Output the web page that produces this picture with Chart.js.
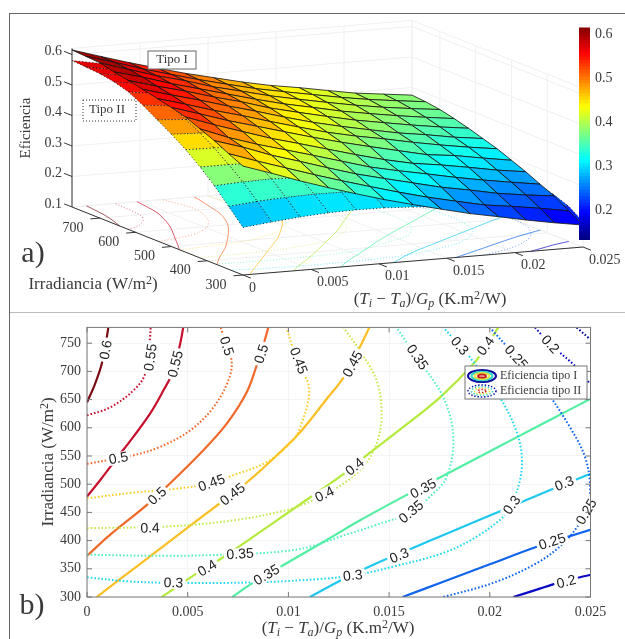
<!DOCTYPE html>
<html>
<head>
<meta charset="utf-8">
<title>Eficiencia tipo I y tipo II</title>
<script src="https://cdn.jsdelivr.net/npm/chart.js@4"></script>
<style>
  html, body { margin: 0; padding: 0; background: #fff; overflow: hidden; }
  #page { position: relative; width: 625px; height: 639px; }
  #frame { position: absolute; left: 9px; top: 13px; width: 616px; height: 626px; border-left: 1px solid #666; border-top: 1px solid #666; box-sizing: border-box; }
  #divider { position: absolute; left: 10px; top: 312px; width: 615px; height: 1px; background: #bbb; }
  canvas { position: absolute; filter: blur(0.4px); }
  #surface-chart { left: 10px; top: 14px; }
  #colorbar-chart { left: 560px; top: 14px; }
  #contour-chart { left: 0; top: 313px; }
</style>
</head>
<body>
<div id="page">
  <div id="frame"></div>
  <div id="divider"></div>
  <canvas id="surface-chart" width="615" height="298"></canvas>
  <canvas id="colorbar-chart" width="65" height="240"></canvas>
  <canvas id="contour-chart" width="625" height="326"></canvas>
</div>
<script>
// Rejilla de las superficies
const xGrid = [0, 0.0021, 0.0042, 0.0063, 0.0083, 0.0104, 0.0125, 0.0146, 0.0167, 0.0188, 0.0208, 0.0229, 0.025];
const gGrid = [300, 340, 380, 420, 460, 500, 540, 580, 620, 660, 700, 740, 778];

// Eficiencia tipo I, una fila por irradiancia
const typeI300 = [0.457, 0.426, 0.393, 0.363, 0.336, 0.309, 0.285, 0.262, 0.240, 0.222, 0.204, 0.187, 0.172];
const typeI340 = [0.479, 0.447, 0.417, 0.387, 0.360, 0.333, 0.307, 0.283, 0.262, 0.242, 0.230, 0.216, 0.200];
const typeI380 = [0.503, 0.474, 0.440, 0.412, 0.384, 0.356, 0.333, 0.311, 0.289, 0.272, 0.254, 0.241, 0.230];
const typeI420 = [0.523, 0.487, 0.457, 0.431, 0.406, 0.379, 0.352, 0.332, 0.314, 0.295, 0.279, 0.264, 0.250];
const typeI460 = [0.543, 0.510, 0.480, 0.450, 0.426, 0.400, 0.374, 0.350, 0.330, 0.317, 0.302, 0.285, 0.272];
const typeI500 = [0.556, 0.527, 0.497, 0.471, 0.446, 0.420, 0.396, 0.374, 0.353, 0.332, 0.322, 0.306, 0.291];
const typeI540 = [0.567, 0.540, 0.512, 0.487, 0.461, 0.435, 0.410, 0.390, 0.373, 0.354, 0.338, 0.323, 0.310];
const typeI580 = [0.578, 0.552, 0.527, 0.500, 0.476, 0.449, 0.424, 0.403, 0.384, 0.366, 0.353, 0.337, 0.325];
const typeI620 = [0.588, 0.562, 0.538, 0.511, 0.488, 0.460, 0.438, 0.417, 0.397, 0.381, 0.366, 0.352, 0.340];
const typeI660 = [0.598, 0.573, 0.544, 0.519, 0.495, 0.470, 0.447, 0.428, 0.408, 0.392, 0.378, 0.365, 0.353];
const typeI700 = [0.609, 0.580, 0.551, 0.527, 0.500, 0.478, 0.455, 0.436, 0.418, 0.401, 0.387, 0.375, 0.364];
const typeI740 = [0.612, 0.585, 0.555, 0.529, 0.505, 0.482, 0.460, 0.442, 0.425, 0.408, 0.394, 0.382, 0.371];
const typeI778 = [0.615, 0.586, 0.558, 0.532, 0.508, 0.486, 0.464, 0.445, 0.430, 0.413, 0.397, 0.386, 0.375];

// Eficiencia tipo II
const typeII300 = [0.256, 0.266, 0.275, 0.281, 0.283, 0.282, 0.277, 0.270, 0.257, 0.241, 0.224, 0.205, 0.183];
const typeII340 = [0.306, 0.315, 0.320, 0.323, 0.322, 0.317, 0.308, 0.293, 0.278, 0.263, 0.253, 0.235, 0.215];
const typeII380 = [0.355, 0.360, 0.362, 0.358, 0.354, 0.346, 0.332, 0.320, 0.308, 0.293, 0.275, 0.252, 0.233];
const typeII420 = [0.398, 0.398, 0.396, 0.390, 0.381, 0.371, 0.358, 0.344, 0.329, 0.310, 0.291, 0.265, 0.243];
const typeII460 = [0.436, 0.434, 0.431, 0.424, 0.413, 0.400, 0.384, 0.367, 0.348, 0.325, 0.302, 0.273, 0.250];
const typeII500 = [0.468, 0.464, 0.458, 0.447, 0.435, 0.420, 0.401, 0.379, 0.356, 0.332, 0.306, 0.278, 0.252];
const typeII540 = [0.497, 0.490, 0.481, 0.469, 0.456, 0.437, 0.414, 0.390, 0.364, 0.336, 0.307, 0.276, 0.245];
const typeII580 = [0.526, 0.516, 0.502, 0.483, 0.466, 0.448, 0.421, 0.397, 0.368, 0.341, 0.309, 0.275, 0.236];
const typeII620 = [0.551, 0.537, 0.516, 0.495, 0.473, 0.453, 0.426, 0.400, 0.365, 0.335, 0.302, 0.263, 0.224];
const typeII660 = [0.565, 0.550, 0.526, 0.504, 0.481, 0.456, 0.428, 0.400, 0.363, 0.328, 0.292, 0.254, 0.212];
const typeII700 = [0.573, 0.558, 0.533, 0.509, 0.485, 0.456, 0.425, 0.393, 0.355, 0.314, 0.274, 0.229, 0.190];
const typeII740 = [0.577, 0.560, 0.537, 0.509, 0.482, 0.447, 0.415, 0.380, 0.336, 0.295, 0.250, 0.208, 0.168];
const typeII778 = [0.580, 0.563, 0.535, 0.505, 0.472, 0.441, 0.403, 0.368, 0.322, 0.282, 0.232, 0.184, 0.140];

const rowsI = [typeI300, typeI340, typeI380, typeI420, typeI460, typeI500, typeI540, typeI580, typeI620, typeI660, typeI700, typeI740, typeI778];
const rowsII = [typeII300, typeII340, typeII380, typeII420, typeII460, typeII500, typeII540, typeII580, typeII620, typeII660, typeII700, typeII740, typeII778];

// Curvas de nivel tipo I (continuas): [x, irradiancia]
const lineI60 = [[0, 645], [0.0004, 678], [0.00073, 713], [0.00098, 760], [0.00106, 778]];
const lineI55 = [[0, 478], [0.00065, 507], [0.00139, 542], [0.0023, 584], [0.00313, 625], [0.00379, 666], [0.00429, 701], [0.00462, 748], [0.00478, 778]];
const lineI50 = [[0, 373], [0.00114, 410], [0.00296, 463], [0.00396, 496], [0.00561, 554], [0.00693, 607], [0.00793, 663], [0.00842, 710], [0.00884, 757], [0.009, 778]];
const lineI45 = [[0.00048, 300], [0.0018, 336], [0.00313, 372], [0.00511, 426], [0.00652, 464], [0.00793, 503], [0.00942, 551], [0.01058, 592], [0.0119, 651], [0.01273, 689], [0.0137, 754], [0.01402, 778]];
const lineI40 = [[0.00371, 300], [0.00545, 342], [0.0066, 367], [0.00826, 407], [0.01024, 456], [0.01273, 518], [0.01405, 556], [0.01587, 606], [0.01753, 654], [0.01918, 713], [0.01984, 745], [0.02042, 778]];
const lineI35 = [[0.00722, 300], [0.0081, 322], [0.00967, 355], [0.0119, 401], [0.01356, 436], [0.01587, 481], [0.01769, 515], [0.01935, 546], [0.02133, 583], [0.02315, 617], [0.02498, 651]];
const lineI30 = [[0.01107, 300], [0.01273, 332], [0.01438, 360], [0.01612, 386], [0.01803, 415], [0.02084, 457], [0.02315, 492], [0.02498, 518]];
const lineI25 = [[0.01567, 300], [0.01769, 327], [0.02, 358], [0.02233, 389], [0.02398, 408], [0.02498, 419]];
const lineI20 = [[0.02117, 300], [0.02233, 313], [0.0234, 325], [0.02448, 335], [0.02498, 339]];

// Curvas de nivel tipo II (punteadas)
const lineII55 = [[0, 622], [0.00114, 636], [0.0023, 666], [0.00288, 695], [0.00313, 760], [0.00316, 778]];
const lineII50 = [[0, 536], [0.00156, 546], [0.0023, 551], [0.00362, 566], [0.00511, 595], [0.00627, 636], [0.00702, 684], [0.00718, 719], [0.00669, 772], [0.00664, 778]];
const lineII45 = [[0, 475], [0.0023, 485], [0.00445, 492], [0.00619, 502], [0.00727, 516], [0.00892, 539], [0.01024, 578], [0.01058, 601], [0.01099, 648], [0.01099, 678], [0.01066, 701], [0.01016, 748], [0.00991, 778]];
const lineII40 = [[0, 422], [0.00396, 425], [0.00727, 436], [0.00991, 454], [0.01107, 469], [0.01182, 482], [0.01273, 501], [0.01372, 531], [0.01438, 572], [0.01463, 625], [0.01438, 684], [0.01356, 736], [0.01273, 778]];
const lineII35 = [[0, 375], [0.00396, 373], [0.0076, 376], [0.00975, 381], [0.01107, 389], [0.01273, 409], [0.01438, 428], [0.01612, 451], [0.01703, 478], [0.01786, 513], [0.01819, 584], [0.01769, 654], [0.01637, 725], [0.01537, 778]];
const lineII30 = [[0, 335], [0.00197, 328], [0.00429, 325], [0.00842, 326], [0.01157, 332], [0.01322, 338], [0.01521, 354], [0.01769, 378], [0.01935, 407], [0.02067, 442], [0.02109, 463], [0.02158, 525], [0.02141, 584], [0.0205, 654], [0.01901, 725], [0.01852, 745], [0.01769, 778]];
const lineII25 = [[0.01769, 300], [0.02017, 325], [0.02233, 360], [0.02365, 395], [0.02448, 431], [0.02481, 451], [0.02498, 495], [0.02473, 548], [0.02398, 601], [0.02266, 672], [0.02133, 725], [0.02, 778]];
const lineII20 = [[0.02224, 778], [0.02302, 748], [0.02431, 707], [0.02498, 678]];
const lineII15 = [[0.02431, 778], [0.02498, 757]];

const contoursI = [
  ['0.6', '#7a0c14', lineI60], ['0.55', '#c8102c', lineI55], ['0.5', '#f0682a', lineI50], ['0.45', '#fbbf24', lineI45],
  ['0.4', '#b4ea3c', lineI40], ['0.35', '#52efa2', lineI35], ['0.3', '#1ec8ee', lineI30], ['0.25', '#1064ee', lineI25], ['0.2', '#0a0ac4', lineI20],
];
const contoursII = [
  ['0.55', '#c8102c', lineII55], ['0.5', '#f0682a', lineII50], ['0.45', '#fbcf24', lineII45], ['0.4', '#c4ea4c', lineII40],
  ['0.35', '#52efc2', lineII35], ['0.3', '#1ed8ee', lineII30], ['0.25', '#1064ee', lineII25], ['0.2', '#0a0ac4', lineII20], ['0.15', '#000090', lineII15],
];

// Etiquetas de las curvas: [x, irradiancia, texto]
const labelsI = [
  [0.00094, 738, '0.6'], [0.0044, 713, '0.55'], [0.00349, 479, '0.5'], [0.00867, 731, '0.5'], [0.00723, 482, '0.45'], [0.0132, 713, '0.45'],
  [0.00597, 351, '0.4'], [0.0133, 531, '0.4'], [0.0198, 745, '0.4'], [0.00892, 339, '0.35'], [0.0167, 492, '0.35'],
  [0.0155, 373, '0.3'], [0.0237, 501, '0.3'], [0.0231, 398, '0.25'], [0.0238, 327, '0.2'],
];
const labelsII = [
  [0.00316, 725, '0.55'], [0.00156, 546, '0.5'], [0.00693, 745, '0.5'], [0.00619, 502, '0.45'], [0.0105, 719, '0.45'],
  [0.00313, 422, '0.4'], [0.0118, 482, '0.4'], [0.0076, 376, '0.35'], [0.0161, 451, '0.35'], [0.0164, 725, '0.35'],
  [0.00429, 325, '0.3'], [0.0132, 338, '0.3'], [0.0211, 463, '0.3'], [0.0185, 745, '0.3'],
  [0.0248, 451, '0.25'], [0.0213, 725, '0.25'], [0.023, 748, '0.2'],
];

// Ejes y textos
const xTicks = [0, 0.005, 0.01, 0.015, 0.02, 0.025];
const gTicks3d = [300, 400, 500, 600, 700];
const zTicks = [0.1, 0.2, 0.3, 0.4, 0.5, 0.6];
const gTicks = [300, 350, 400, 450, 500, 550, 600, 650, 700, 750];
const colorbarTicks = [0.2, 0.3, 0.4, 0.5, 0.6];
const legendNames = ['Eficiencia tipo I', 'Eficiencia tipo II'];
const xTitleRuns = [['('], ['T', 'i'], ['i', 's'], [' \u2212 '], ['T', 'i'], ['a', 's'], [')/'], ['G', 'i'], ['p', 's'], [' (K.m'], ['2', 'u'], ['/W)']];
const gTitleRuns = [['Irradiancia (W/m'], ['2', 'u'], [')']];

const SERIF = '"Liberation Serif", "DejaVu Serif", serif';
const SANS = '"Liberation Sans", Arial, sans-serif';
const TEXT = '#3a3a3a';

const xMin = 0, xMax = 0.025, gMin = 300, gMax = 778, zMin = 0.1, zMax = 0.62;
const zLimLow = 0.133, zLimHigh = 0.6156;

function jet(value) {
  const t = Math.min(1, Math.max(0, (value - zLimLow) / (zLimHigh - zLimLow)));
  const ch = (c) => Math.round(255 * Math.min(1, Math.max(0, 1.5 - Math.abs(4 * t - c))));
  return `rgb(${ch(3)},${ch(2)},${ch(1)})`;
}

// Proyeccion ortografica del grafico 3D a la pagina
function project(x, g, z) {
  const fx = x / xMax;
  const fg = (g - gMin) / (gMax - gMin);
  return {
    x: 243 + fx * 340 - fg * 171,
    y: 275 - fx * 28 - fg * 68 - (z - zMin) * 305,
  };
}

function line3d(points, style) {
  return {
    data: points.map((p) => project(p[0], p[1], p[2])),
    showLine: true,
    pointRadius: 0,
    fill: false,
    clip: false,
    borderWidth: 1,
    borderColor: '#eee',
    ...style,
  };
}

function surfaceQuads(rows, style) {
  const quads = [];
  for (let i = gGrid.length - 2; i >= 0; i -= 1) {
    for (let j = xGrid.length - 2; j >= 0; j -= 1) {
      const mean = (rows[i][j] + rows[i][j + 1] + rows[i + 1][j] + rows[i + 1][j + 1]) / 4;
      quads.push(line3d([
        [xGrid[j], gGrid[i], rows[i][j]],
        [xGrid[j + 1], gGrid[i], rows[i][j + 1]],
        [xGrid[j + 1], gGrid[i + 1], rows[i + 1][j + 1]],
        [xGrid[j], gGrid[i + 1], rows[i + 1][j]],
        [xGrid[j], gGrid[i], rows[i][j]],
      ], { fill: 'shape', backgroundColor: jet(mean), ...style }));
    }
  }
  return quads;
}

function surfaceDatasets() {
  const sets = [];
  const gridStyle = { borderColor: '#f0f0f0', borderWidth: 1 };
  // paredes y suelo
  zTicks.forEach((z) => {
    sets.push(line3d([[xMin, gMax, z], [xMax, gMax, z], [xMax, gMin, z]], gridStyle));
  });
  xTicks.forEach((x) => {
    sets.push(line3d([[x, gMin, zMin], [x, gMax, zMin], [x, gMax, zMax]], gridStyle));
  });
  gTicks3d.concat([gMax]).forEach((g) => {
    sets.push(line3d([[xMin, g, zMin], [xMax, g, zMin], [xMax, g, zMax]], gridStyle));
  });
  sets.push(line3d([[xMin, gMax, zMax], [xMax, gMax, zMax], [xMax, gMin, zMax]], gridStyle));

  // curvas proyectadas en el suelo
  contoursI.forEach(([, color, pts]) => {
    sets.push(line3d(pts.map((p) => [p[0], p[1], zMin]), { borderColor: color + 'b0', tension: 0.3 }));
  });
  contoursII.forEach(([, color, pts]) => {
    sets.push(line3d(pts.map((p) => [p[0], p[1], zMin]), { borderColor: color + '90', borderDash: [1, 2], tension: 0.3 }));
  });

  sets.push(...surfaceQuads(rowsII, { borderColor: '#111', borderWidth: 0.9, borderDash: [1, 2.4] }));
  sets.push(...surfaceQuads(rowsI, { borderColor: 'rgba(20,20,20,0.9)', borderWidth: 0.9 }));

  // ejes
  const axisStyle = { borderColor: '#333', borderWidth: 1 };
  sets.push(line3d([[xMin, gMax, zMin], [xMin, gMax, zMax]], axisStyle));
  sets.push(line3d([[xMin, gMax, zMin], [xMin, gMin, zMin], [xMax, gMin, zMin]], axisStyle));
  xTicks.forEach((x) => {
    sets.push(line3d([[x, gMin, zMin], [x, gMin - 22, zMin]], axisStyle));
  });
  gTicks3d.forEach((g) => {
    sets.push(line3d([[xMin, g, zMin], [xMin - 0.0007, g, zMin]], axisStyle));
  });
  zTicks.forEach((z) => {
    sets.push(line3d([[xMin, gMax, z], [xMin, gMax + 22, z]], axisStyle));
  });
  return sets.reverse();
}

function drawRuns(ctx, runs, cx, cy, size) {
  const fontOf = (run) => {
    const small = run[1] === 's' || run[1] === 'u';
    const italic = run[1] === 'i' || run[1] === 's';
    return `${italic ? 'italic ' : ''}${small ? Math.round(size * 0.7) : size}px ${SERIF}`;
  };
  let width = 0;
  runs.forEach((run) => {
    ctx.font = fontOf(run);
    width += ctx.measureText(run[0]).width;
  });
  let x = cx - width / 2;
  ctx.textAlign = 'left';
  ctx.textBaseline = 'alphabetic';
  runs.forEach((run) => {
    ctx.font = fontOf(run);
    const shift = run[1] === 's' ? 3 : run[1] === 'u' ? -5 : 0;
    ctx.fillText(run[0], x, cy + size * 0.33 + shift);
    x += ctx.measureText(run[0]).width;
  });
}

function textAt(ctx, text, x, y, font, align) {
  ctx.font = font;
  ctx.textAlign = align || 'center';
  ctx.textBaseline = 'middle';
  ctx.fillText(text, x, y);
}

const surfaceText = {
  id: 'surfaceText',
  afterDatasetsDraw(chart) {
    const { ctx } = chart;
    const px = (p) => ({ x: chart.scales.x.getPixelForValue(p.x), y: chart.scales.y.getPixelForValue(p.y) });
    const font = `14px ${SERIF}`;
    ctx.save();
    ctx.fillStyle = TEXT;
    xTicks.forEach((x) => {
      const p = px(project(x, gMin, zMin));
      textAt(ctx, String(x), p.x + 6, p.y + 13, font, 'left');
    });
    gTicks3d.forEach((g) => {
      const p = px(project(xMin, g, zMin));
      textAt(ctx, String(g), p.x - 27, p.y + 10, font);
    });
    zTicks.forEach((z) => {
      const p = px(project(xMin, gMax, z));
      textAt(ctx, String(z), p.x - 10, p.y - 3, font, 'right');
    });
    const origin = px({ x: 0, y: 0 });
    const at = (x, y) => ({ x: origin.x + x, y: origin.y + y });

    let p = at(26, 128);
    ctx.save();
    ctx.translate(p.x, p.y);
    ctx.rotate(-Math.PI / 2);
    textAt(ctx, 'Eficiencia', 0, 0, `15px ${SERIF}`);
    ctx.restore();

    p = at(93, 283);
    drawRuns(ctx, gTitleRuns, p.x, p.y, 17);
    p = at(430, 298);
    drawRuns(ctx, xTitleRuns, p.x, p.y, 17);

    p = at(33, 254);
    textAt(ctx, 'a)', p.x, p.y, `30px ${SERIF}`);

    // recuadros Tipo I / Tipo II
    ctx.strokeStyle = '#666';
    ctx.lineWidth = 1;
    ctx.fillStyle = '#fff';
    p = at(148, 51);
    ctx.fillRect(p.x, p.y, 48, 18);
    ctx.strokeRect(p.x, p.y, 48, 18);
    ctx.setLineDash([1, 2]);
    ctx.strokeStyle = '#333';
    p = at(83, 100);
    ctx.fillRect(p.x, p.y, 53, 21);
    ctx.strokeRect(p.x, p.y, 53, 21);
    ctx.setLineDash([]);
    ctx.fillStyle = TEXT;
    p = at(172, 60);
    textAt(ctx, 'Tipo I', p.x, p.y, `13px ${SERIF}`);
    p = at(107, 110);
    textAt(ctx, 'Tipo II', p.x, p.y, `13px ${SERIF}`);
    ctx.restore();
  },
};

new Chart(document.getElementById('surface-chart'), {
  type: 'scatter',
  data: { datasets: surfaceDatasets() },
  options: {
    responsive: false,
    animation: false,
    events: [],
    layout: { padding: 0 },
    plugins: { legend: { display: false }, tooltip: { enabled: false } },
    scales: {
      x: { type: 'linear', min: 10, max: 625, display: false },
      y: { type: 'linear', min: 14, max: 312, reverse: true, display: false },
    },
  },
  plugins: [surfaceText],
});

// Barra de color
const colorSteps = [];
for (let i = 0; i < 64; i += 1) colorSteps.push(zLimLow + (i / 64) * (zLimHigh - zLimLow));
const colorStepSize = (zLimHigh - zLimLow) / 64;

new Chart(document.getElementById('colorbar-chart'), {
  type: 'bar',
  data: {
    labels: [''],
    datasets: colorSteps.map((low) => ({
      data: [[low, low + colorStepSize * 1.1]],
      backgroundColor: jet(low + colorStepSize / 2),
      barPercentage: 1,
      categoryPercentage: 1,
      grouped: false,
    })),
  },
  options: {
    responsive: false,
    animation: false,
    events: [],
    layout: { padding: { left: 19, top: 10, bottom: 14, right: 0 } },
    plugins: { legend: { display: false }, tooltip: { enabled: false } },
    scales: {
      x: { display: false },
      y: {
        position: 'right',
        min: zLimLow,
        max: zLimHigh,
        afterFit(scale) { scale.width = 35; },
        afterBuildTicks(scale) { scale.ticks = colorbarTicks.map((value) => ({ value })); },
        grid: { display: false, drawTicks: false, tickLength: 0 },
        border: { display: false },
        ticks: { color: TEXT, padding: 5, font: { family: SERIF, size: 14 }, callback: (v) => String(v) },
      },
    },
  },
});

// Grafico de contornos
function contourDatasets() {
  const build = (list, style) => list.map(([, color, pts]) => ({
    data: pts.map((p) => ({ x: p[0], y: p[1] })),
    showLine: true,
    pointRadius: 0,
    borderColor: color,
    tension: 0.35,
    ...style,
  }));
  return [
    ...build(contoursI, { borderWidth: 2.2 }),
    ...build(contoursII, { borderWidth: 2, borderDash: [1.6, 2] }),
  ].reverse();
}

function labelAngle(scales, pts, lx, ly) {
  const xs = scales.x, ys = scales.y;
  const tx = xs.getPixelForValue(lx), ty = ys.getPixelForValue(ly);
  let best = 0, bestDist = Infinity;
  for (let i = 0; i < pts.length - 1; i += 1) {
    const ax = xs.getPixelForValue(pts[i][0]), ay = ys.getPixelForValue(pts[i][1]);
    const bx = xs.getPixelForValue(pts[i + 1][0]), by = ys.getPixelForValue(pts[i + 1][1]);
    const d = Math.hypot(tx - (ax + bx) / 2, ty - (ay + by) / 2);
    if (d < bestDist) {
      bestDist = d;
      best = Math.atan2(by - ay, bx - ax);
    }
  }
  if (best > Math.PI / 2) best -= Math.PI;
  if (best < -Math.PI / 2) best += Math.PI;
  return best;
}

function drawLegendIcon(ctx, cx, cy, dotted) {
  const rings = [[14, 6, '#0a0aa0'], [10.5, 4.2, '#30d8c0'], [7.5, 3, '#e8e040'], [4, 1.6, '#c8201c']];
  ctx.setLineDash(dotted ? [1.4, 1.8] : []);
  ctx.lineWidth = dotted ? 1.5 : 2;
  rings.forEach(([rx, ry, color]) => {
    ctx.strokeStyle = color;
    ctx.beginPath();
    ctx.ellipse(cx, cy, rx, ry, 0, 0, Math.PI * 2);
    ctx.stroke();
  });
  ctx.setLineDash([]);
}

const contourExtras = {
  id: 'contourExtras',
  afterDatasetsDraw(chart) {
    const { ctx, chartArea: area, scales } = chart;
    const page = (x, y) => ({ x, y: y - 313 });
    ctx.save();

    const drawLabels = (labels, contours) => {
      labels.forEach(([lx, ly, text]) => {
        const entry = contours.find((c) => c[0] === text);
        const angle = labelAngle(scales, entry[2], lx, ly);
        const x = scales.x.getPixelForValue(lx);
        const y = scales.y.getPixelForValue(ly);
        ctx.save();
        ctx.translate(x, y);
        ctx.rotate(angle);
        ctx.font = `14px ${SANS}`;
        const w = ctx.measureText(text).width + 5;
        ctx.fillStyle = '#fff';
        ctx.fillRect(-w / 2, -6, w, 12);
        ctx.fillStyle = '#222';
        textAt(ctx, text, 0, 0.5, `14px ${SANS}`);
        ctx.restore();
      });
    };
    drawLabels(labelsII, contoursII);
    drawLabels(labelsI, contoursI);

    // marco y marcas interiores
    ctx.strokeStyle = '#777';
    ctx.lineWidth = 1;
    ctx.strokeRect(area.left, area.top, area.right - area.left, area.bottom - area.top);
    ctx.beginPath();
    xTicks.forEach((v) => {
      const x = scales.x.getPixelForValue(v);
      ctx.moveTo(x, area.bottom); ctx.lineTo(x, area.bottom - 5);
      ctx.moveTo(x, area.top); ctx.lineTo(x, area.top + 5);
    });
    gTicks.forEach((v) => {
      const y = scales.y.getPixelForValue(v);
      ctx.moveTo(area.left, y); ctx.lineTo(area.left + 5, y);
      ctx.moveTo(area.right, y); ctx.lineTo(area.right - 5, y);
    });
    ctx.stroke();

    // leyenda
    let p = page(465, 366);
    ctx.fillStyle = '#fff';
    ctx.fillRect(p.x, p.y, 122, 33);
    ctx.strokeStyle = '#777';
    ctx.strokeRect(p.x, p.y, 122, 33);
    legendNames.forEach((name, i) => {
      const rowY = 376 + i * 15 - 313;
      drawLegendIcon(ctx, 482, rowY, i === 1);
      ctx.fillStyle = TEXT;
      textAt(ctx, name, 500, rowY, `12px ${SERIF}`, 'left');
    });

    ctx.fillStyle = TEXT;
    p = page(338, 627);
    drawRuns(ctx, xTitleRuns, p.x, p.y, 17);
    p = page(47, 462);
    ctx.save();
    ctx.translate(p.x, p.y);
    ctx.rotate(-Math.PI / 2);
    drawRuns(ctx, gTitleRuns, 0, 0, 17);
    ctx.restore();
    p = page(32, 606);
    textAt(ctx, 'b)', p.x, p.y, `30px ${SERIF}`);
    ctx.restore();
  },
};

new Chart(document.getElementById('contour-chart'), {
  type: 'scatter',
  data: { datasets: contourDatasets() },
  options: {
    responsive: false,
    animation: false,
    events: [],
    layout: { padding: { left: 0, top: 13, right: 34.5, bottom: 0 } },
    plugins: { legend: { display: false }, tooltip: { enabled: false } },
    scales: {
      x: {
        type: 'linear',
        min: xMin,
        max: xMax,
        afterFit(scale) { scale.height = 42; },
        afterBuildTicks(scale) { scale.ticks = xTicks.map((value) => ({ value })); },
        grid: { color: '#f4f4f4', drawTicks: false },
        border: { display: false },
        ticks: { color: TEXT, padding: 7, maxRotation: 0, font: { family: SERIF, size: 14 }, callback: (v) => String(v) },
      },
      y: {
        type: 'linear',
        min: gMin,
        max: gMax,
        afterFit(scale) { scale.width = 87; },
        afterBuildTicks(scale) { scale.ticks = gTicks.map((value) => ({ value })); },
        grid: { color: '#f4f4f4', drawTicks: false },
        border: { display: false },
        ticks: { color: TEXT, padding: 6, font: { family: SERIF, size: 14 }, callback: (v) => String(v) },
      },
    },
  },
  plugins: [contourExtras],
});
</script>
</body>
</html>
